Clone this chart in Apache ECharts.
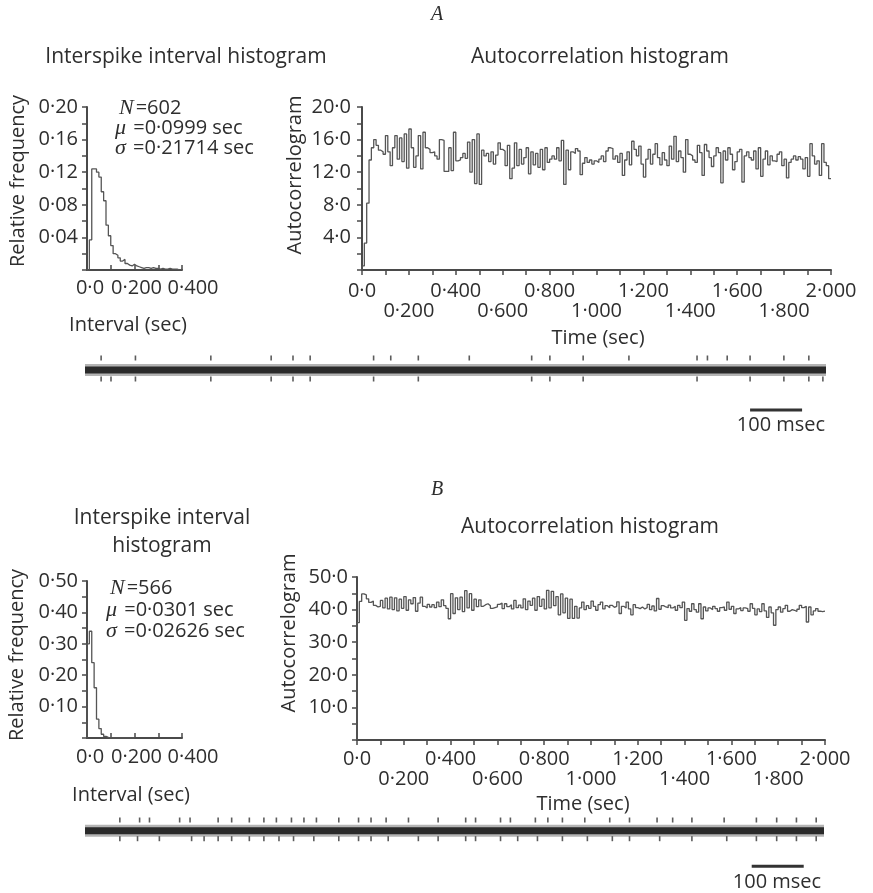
<!DOCTYPE html>
<html><head><meta charset="utf-8">
<script src="https://cdn.jsdelivr.net/npm/echarts@6/dist/echarts.min.js"></script>
<style>html,body{margin:0;padding:0;background:#fff}#c{width:873px;height:893px}</style>
</head><body><div id="c"></div><script>
// ---------- data ----------
const binISI = 0.01;      // sec
const binAC = 0.01;       // sec
const isiA = [0, 0.037, 0.124, 0.124, 0.12, 0.114, 0.096, 0.085, 0.055, 0.042, 0.03, 0.02, 0.018, 0.015, 0.011, 0.013, 0.008, 0.006, 0.005, 0.007,
  0.005, 0.004, 0.003, 0.002, 0.003, 0.003, 0.002, 0.003, 0.002, 0.002, 0.001, 0.002, 0.001, 0.001, 0.002, 0.001, 0.001, 0.001, 0.0, 0.001];
const isiB = [0.30, 0.34, 0.24, 0.16, 0.06, 0.03, 0.012, 0.005, 0.002, 0.0, 0.0, 0.0, 0.0, 0.0, 0.0, 0.0, 0.0, 0.0, 0.0, 0.0];
const acA = [0.5, 3.3, 8.2, 13.5, 15.0, 16.0, 15.3, 14.7, 14.5, 14.2, 16.5, 14.5, 12.8, 15.0, 16.5, 13.6, 16.2, 13.3, 16.7, 12.5,
  17.3, 15.0, 12.6, 14.0, 16.5, 12.4, 16.9, 15.0, 14.8, 14.4, 14.5, 14.0, 13.6, 16.0, 15.9, 12.1, 12.1, 15.0, 12.2, 16.9,
  13.4, 13.5, 13.8, 14.3, 13.7, 15.7, 12.0, 16.0, 10.6, 16.7, 10.5, 14.7, 14.0, 14.3, 13.3, 14.5, 13.0, 14.1, 15.6, 14.8,
  14.6, 12.8, 15.3, 11.2, 12.5, 15.6, 12.8, 14.8, 13.0, 13.8, 15.0, 11.8, 14.5, 12.9, 14.3, 12.6, 14.8, 12.3, 15.0, 13.2,
  13.6, 14.0, 13.6, 15.0, 13.4, 15.9, 10.5, 14.7, 12.3, 14.5, 14.3, 14.9, 14.6, 11.7, 13.1, 13.8, 13.2, 13.5, 13.0, 13.4,
  13.2, 13.6, 14.0, 13.3, 14.6, 15.0, 14.9, 13.6, 14.0, 13.2, 14.3, 11.6, 13.5, 14.5, 12.9, 15.8, 14.8, 14.0, 15.2, 13.0,
  11.4, 13.6, 14.8, 13.0, 14.2, 15.5, 13.8, 12.9, 14.4, 13.5, 12.8, 15.2, 13.6, 16.4, 13.3, 14.6, 13.8, 12.0, 16.0, 14.2,
  14.0, 13.5, 13.2, 15.3, 14.4, 11.6, 15.4, 14.6, 13.8, 12.7, 14.0, 15.0, 14.4, 10.7, 14.6, 13.5, 15.0, 14.2, 12.3, 13.3,
  14.5, 14.8, 10.8, 14.0, 14.5, 13.8, 13.5, 14.6, 12.4, 15.0, 11.5, 13.6, 14.6, 12.9, 14.0, 13.4, 13.3, 14.2, 14.5, 12.8,
  13.6, 11.3, 13.2, 13.6, 14.0, 13.5, 13.9, 13.6, 12.4, 13.8, 11.5, 15.5, 14.0, 13.0, 13.4, 11.6, 15.5, 13.2, 12.8, 11.2];
const acB = [36.0, 42.5, 44.8, 44.5, 43.3, 42.2, 42.6, 41.3, 40.8, 41.0, 42.8, 40.5, 43.5, 40.2, 43.8, 40.0, 43.6, 39.6, 43.2, 40.4,
  44.0, 39.8, 43.0, 41.8, 43.7, 39.5, 42.0, 43.8, 41.0, 40.5, 41.6, 40.8, 41.5, 40.6, 42.3, 40.9, 43.0, 41.2, 40.4, 37.2,
  44.9, 38.8, 43.6, 40.0, 43.8, 39.4, 45.8, 40.5, 44.9, 39.8, 43.2, 40.9, 43.0, 41.0, 41.5, 41.8, 41.2, 40.4, 40.6, 40.8,
  41.6, 42.0, 40.3, 41.8, 40.9, 41.5, 40.2, 42.8, 40.6, 41.4, 40.5, 43.3, 40.0, 42.6, 41.3, 43.5, 39.8, 44.0, 41.0, 43.2,
  40.2, 45.9, 40.5, 45.6, 41.2, 44.0, 38.4, 44.8, 39.0, 43.5, 37.3, 43.2, 37.3, 41.0, 37.4, 40.5, 42.3, 40.0, 41.2, 40.4,
  42.6, 41.0, 39.8, 41.5, 42.3, 40.2, 41.2, 40.6, 41.3, 40.7, 41.0, 42.4, 38.8, 41.0, 40.5, 42.3, 40.2, 38.4, 41.5, 40.6,
  40.3, 40.8, 40.2, 40.6, 41.6, 40.0, 41.1, 39.6, 43.4, 40.1, 41.2, 40.8, 40.6, 41.4, 40.5, 41.0, 39.8, 41.3, 40.6, 42.3,
  36.7, 40.3, 39.5, 41.8, 40.0, 39.2, 41.8, 37.2, 40.8, 39.6, 40.5, 40.0, 41.0, 40.3, 39.5, 40.6, 40.8, 39.8, 42.3, 40.1,
  41.0, 38.8, 40.2, 40.6, 39.7, 40.5, 40.3, 39.5, 41.8, 40.4, 38.4, 40.2, 39.4, 41.8, 39.6, 37.6, 40.8, 39.0, 35.2, 40.0,
  40.8, 39.2, 40.3, 41.3, 39.5, 40.0, 39.8, 39.4, 40.1, 41.3, 40.6, 41.0, 36.2, 40.8, 38.4, 39.6, 40.3, 39.5, 39.4, 39.5];
// spike times in the recordings (msec from start of trace)
const traceLenA = 1425, traceLenB = 1421;
const spikesAUp = [31, 97, 242, 358, 400, 433, 555, 588, 641, 739, 859, 894, 958, 1046, 1177, 1197, 1235, 1279, 1344, 1392];
const spikesADown = [31, 50, 97, 242, 358, 400, 433, 555, 641, 859, 894, 958, 1177, 1279, 1344, 1392, 1419];
const spikesBUp = [67, 105, 124, 182, 202, 256, 282, 316, 344, 368, 397, 421, 445, 488, 526, 550, 579, 622, 679, 732, 751, 799, 818,
  866, 890, 918, 961, 1009, 1047, 1100, 1130, 1167, 1229, 1291, 1330, 1368, 1406];
const spikesBDown = [67, 101, 143, 205, 229, 256, 282, 316, 344, 373, 401, 440, 488, 526, 550, 583, 641, 679, 732, 751, 799, 832,
  870, 918, 966, 1014, 1047, 1105, 1167, 1234, 1291, 1330, 1368, 1406];
const scaleBarMs = 100;

// ---------- helpers ----------
const FONT = '"Open Sans"';
const TXT = '#2e2e2e', LN = '#4a4a4a';
const dot = s => s.replace('.', '\u00b7');
function stepData(vals, w) {
  const d = [[0, 0]];
  vals.forEach((v, i) => d.push([+(i * w).toFixed(4), v]));
  d.push([+(vals.length * w).toFixed(4), vals[vals.length - 1]]);
  return d;
}
const lbl = {color: TXT, fontFamily: FONT, fontSize: 20};
function axisBase(extra) {
  return Object.assign({
    axisLine: {show: true, onZero: false, lineStyle: {color: LN, width: 2}},
    axisTick: {show: true, length: 5, lineStyle: {color: LN, width: 1.5}},
    splitLine: {show: false},
  }, extra);
}
const isiXFmt = v => { const k = Math.round(v * 10); if (k % 2) return ''; if (k === 0) return '{a|0\u00b70}'; return k === 4 ? '{c|0\u00b7400}' : '{b|0\u00b7200}'; };
const isiRich = {a: {fontFamily: FONT, fontSize: 20, color: TXT, padding: [0, 0, 0, 6]}, b: {fontFamily: FONT, fontSize: 20, color: TXT, padding: [0, 0, 0, 4]}, c: {fontFamily: FONT, fontSize: 20, color: TXT, padding: [0, 0, 0, 22]}};
const acXFmt = v => { const k = Math.round(v * 10); if (k % 2) return ''; const s = k === 0 ? '0\u00b70' : dot((k / 10).toFixed(3)); return k % 4 === 0 ? s : '\n' + s; };

const grids = [
  {left: 87, top: 107, width: 95, height: 163},   // ISI A
  {left: 362, top: 107, width: 469, height: 163}, // AC A
  {left: 85, top: 340, width: 741, height: 100},  // trace A
  {left: 87, top: 581, width: 95, height: 157},   // ISI B
  {left: 357, top: 577, width: 468, height: 163}, // AC B
  {left: 85, top: 804, width: 739, height: 100},  // trace B
];
const inTick = {show: true, inside: true, length: 5, lineStyle: {color: LN, width: 1.5}};
const xAxes = [
  axisBase({gridIndex: 0, type: 'value', min: 0, max: 0.4, interval: 0.1, axisTick: inTick, axisLabel: Object.assign({margin: 8, lineHeight: 20, formatter: isiXFmt, rich: isiRich}, lbl)}),
  axisBase({gridIndex: 1, type: 'value', min: 0, max: 2, interval: 0.1, axisLabel: Object.assign({margin: 11, lineHeight: 20, formatter: acXFmt}, lbl)}),
  {gridIndex: 2, type: 'value', min: 0, max: traceLenA, show: false},
  axisBase({gridIndex: 3, type: 'value', min: 0, max: 0.4, interval: 0.1, axisTick: inTick, axisLabel: Object.assign({margin: 9, lineHeight: 20, formatter: isiXFmt, rich: isiRich}, lbl)}),
  axisBase({gridIndex: 4, type: 'value', min: 0, max: 2, interval: 0.1, axisLabel: Object.assign({margin: 9, lineHeight: 20, formatter: acXFmt}, lbl)}),
  {gridIndex: 5, type: 'value', min: 0, max: traceLenB, show: false},
];
const yAxes = [
  axisBase({gridIndex: 0, type: 'value', min: 0, max: 0.2, interval: 0.02, axisLabel: Object.assign({margin: 9, formatter: v => { const k = Math.round(v * 100); return (k > 0 && k % 4 === 0) ? dot(v.toFixed(2)) : ''; }}, lbl)}),
  axisBase({gridIndex: 1, type: 'value', min: 0, max: 20, interval: 2, axisLabel: Object.assign({margin: 11, formatter: v => (v > 0 && v % 4 === 0) ? dot(v.toFixed(1)) : ''}, lbl)}),
  {gridIndex: 2, type: 'value', min: -70, max: 30, show: false},
  axisBase({gridIndex: 3, type: 'value', min: 0, max: 0.5, interval: 0.05, axisLabel: Object.assign({margin: 9, formatter: v => { const k = Math.round(v * 100); return (k > 0 && k % 10 === 0) ? dot(v.toFixed(2)) : ''; }}, lbl)}),
  axisBase({gridIndex: 4, type: 'value', min: 0, max: 50, interval: 5, axisLabel: Object.assign({margin: 9, formatter: v => (v > 0 && v % 10 === 0) ? dot(v.toFixed(1)) : ''}, lbl)}),
  {gridIndex: 5, type: 'value', min: -70, max: 30, show: false},
];
function stepSeries(idx, vals, w) {
  return {type: 'line', xAxisIndex: idx, yAxisIndex: idx, step: 'end', symbol: 'none', silent: true,
    lineStyle: {color: '#555', width: 1.3}, data: stepData(vals, w)};
}
function traceSeries(idx, len, up, down, barStart) {
  return [
    {type: 'line', xAxisIndex: idx, yAxisIndex: idx, symbol: 'none', silent: true, lineStyle: {color: 'rgba(40,40,40,0.35)', width: 12}, data: [[0, 0], [len, 0]]},
    {type: 'line', xAxisIndex: idx, yAxisIndex: idx, symbol: 'none', silent: true, lineStyle: {color: '#2a2a2a', width: 7}, data: [[0, 0], [len, 0]]},
    {type: 'scatter', xAxisIndex: idx, yAxisIndex: idx, silent: true, symbol: 'rect', symbolSize: [1.6, 5], itemStyle: {color: '#333'}, data: up.map(t => [t, 12])},
    {type: 'scatter', xAxisIndex: idx, yAxisIndex: idx, silent: true, symbol: 'rect', symbolSize: [1.6, 5], itemStyle: {color: '#333'}, data: down.map(t => [t, -9])},
    {type: 'line', xAxisIndex: idx, yAxisIndex: idx, symbol: 'none', silent: true, lineStyle: {color: '#333', width: 3}, data: [[barStart, -40], [barStart + scaleBarMs, -40]]},
  ];
}
function T(text, x, y, opt) {
  return Object.assign({type: 'text', x: x, y: y, silent: true,
    style: Object.assign({text: text, fill: TXT, font: '20px ' + FONT, align: 'center', verticalAlign: 'middle'}, (opt && opt.style) || {})},
    opt && opt.rot ? {rotation: opt.rot} : {});
}
function stat(sym, rest, x, y) {
  return {type: 'text', x: x, y: y, silent: true, style: {text: '{i|' + sym + '}{r|' + rest + '}', align: 'left', verticalAlign: 'middle',
    rich: {i: {fontFamily: '"Liberation Serif"', fontStyle: 'italic', fontSize: 22, fill: TXT, padding: [0, 2, 0, 0]}, r: {fontFamily: FONT, fontSize: 20, fill: TXT}}}};
}
const titleFont = '21px ' + FONT;
const graphics = [
  T('A', 437, 15, {style: {font: 'italic 20px "Liberation Serif"'}}),
  T('Interspike interval histogram', 186, 57, {style: {font: titleFont}}),
  T('Autocorrelation histogram', 600, 57, {style: {font: titleFont}}),
  T('Relative frequency', 18, 181, {rot: Math.PI / 2}),
  T('Autocorrelogram', 295, 175, {rot: Math.PI / 2}),
  stat('N', '=602', 119, 108), stat('\u03bc', ' =0\u00b70999 sec', 115, 128), stat('\u03c3', ' =0\u00b721714 sec', 115, 148),
  T('Interval (sec)', 128, 325),
  T('Time (sec)', 598, 338),
  T('100 msec', 781, 425),
  T('B', 437, 490, {style: {font: 'italic 20px "Liberation Serif"'}}),
  T('Interspike interval', 162, 518, {style: {font: titleFont}}),
  T('histogram', 162, 546, {style: {font: titleFont}}),
  T('Autocorrelation histogram', 590, 527, {style: {font: titleFont}}),
  T('Relative frequency', 17, 655, {rot: Math.PI / 2}),
  T('Autocorrelogram', 289, 633, {rot: Math.PI / 2}),
  stat('N', '=566', 110, 588), stat('\u03bc', ' =0\u00b70301 sec', 106, 610), stat('\u03c3', ' =0\u00b702626 sec', 106, 631),
  T('Interval (sec)', 131, 795),
  T('Time (sec)', 583, 804),
  T('100 msec', 777, 882),
];
const series = [
  stepSeries(0, isiA, binISI),
  stepSeries(1, acA, binAC),
  ...traceSeries(2, traceLenA, spikesAUp, spikesADown, 1279),
  stepSeries(3, isiB, binISI),
  stepSeries(4, acB, binAC),
  ...traceSeries(5, traceLenB, spikesBUp, spikesBDown, 1282),
];
const chart = echarts.init(document.getElementById('c'), null, {renderer: 'canvas'});
chart.setOption({animation: false, backgroundColor: '#fff', grid: grids, xAxis: xAxes, yAxis: yAxes, series: series, graphic: graphics});
</script></body></html>
